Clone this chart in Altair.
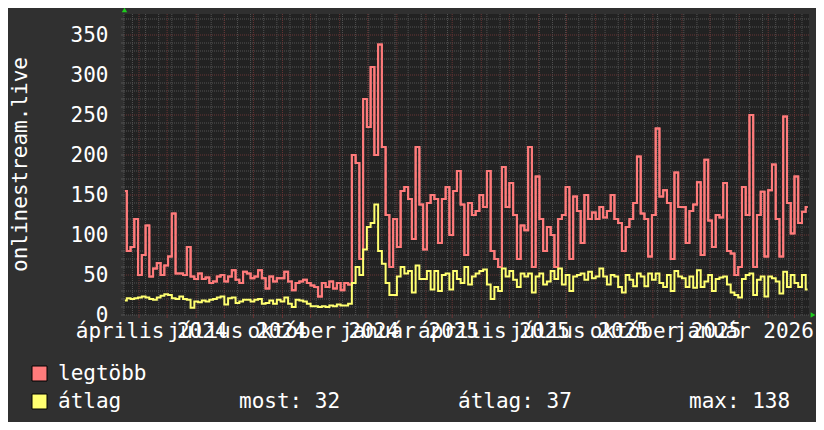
import altair as alt
import pandas as pd

# ---- data (one sample every 4 days) ----
legtobb = [
    155, 80, 85, 120, 50, 75, 112, 48, 58, 65,
    50, 62, 73, 127, 52, 52, 50, 85, 48, 45,
    52, 45, 47, 40, 42, 48, 50, 42, 48, 56,
    44, 40, 54, 52, 46, 48, 56, 46, 33, 48,
    42, 46, 46, 54, 42, 31, 40, 42, 44, 40,
    37, 35, 23, 40, 35, 42, 33, 40, 31, 40,
    38, 200, 190, 70, 270, 235, 310, 200, 338, 210,
    125, 60, 120, 85, 155, 160, 145, 95, 210, 138,
    82, 140, 150, 145, 90, 145, 160, 100, 155, 180,
    138, 75, 140, 125, 130, 150, 135, 180, 80, 70,
    60, 185, 135, 165, 125, 70, 112, 106, 210, 60,
    173, 120, 80, 110, 100, 60, 120, 125, 160, 70,
    148, 130, 90, 150, 120, 128, 120, 135, 122, 130,
    150, 120, 115, 80, 110, 120, 140, 198, 127, 120,
    73, 125, 233, 148, 156, 140, 70, 178, 135, 135,
    90, 130, 138, 166, 75, 194, 118, 85, 125, 122,
    165, 80, 77, 50, 60, 160, 125, 250, 60, 125,
    154, 73, 156, 188, 120, 73, 248, 140, 102, 173,
    115, 129, 135,
]
atlag = [
    18, 21, 20, 21, 22, 23, 22, 20, 19, 22,
    24, 26, 25, 21, 20, 23, 20, 19, 9, 17,
    16, 18, 17, 19, 20, 22, 23, 13, 21, 22,
    15, 17, 19, 19, 17, 19, 20, 14, 15, 18,
    14, 19, 17, 22, 14, 10, 19, 18, 17, 14,
    11, 11, 10, 11, 10, 12, 11, 13, 12, 12,
    14, 40, 60, 50, 82, 110, 115, 138, 80, 64,
    40, 25, 25, 48, 60, 52, 55, 28, 62, 45,
    45, 55, 32, 55, 30, 50, 52, 32, 55, 45,
    40, 60, 38, 48, 52, 55, 57, 38, 20, 35,
    30, 58, 48, 55, 44, 35, 52, 48, 52, 28,
    48, 52, 38, 42, 55, 45, 58, 38, 50, 30,
    48, 50, 52, 44, 54, 46, 48, 58, 48, 38,
    50, 48, 35, 28, 50, 44, 36, 52, 48, 36,
    52, 44, 52, 40, 35, 50, 30, 55, 48, 46,
    35, 48, 34, 56, 35, 42, 50, 30, 45, 47,
    48, 38, 28, 25, 22, 45, 50, 52, 25, 44,
    48, 23, 48, 46, 42, 27, 54, 35, 50, 40,
    35, 50, 32,
]
start_date = "2024-03-17"
step_days = 4

y_ticks = [0, 50, 100, 150, 200, 250, 300, 350]
label_dates = ["2024-04-14", "2024-07-14", "2024-10-14", "2025-01-14",
               "2025-04-14", "2025-07-14", "2025-10-14", "2026-01-06"]
hu_months = ["január", "február", "március", "április", "május", "június",
             "július", "augusztus", "szeptember", "október", "november", "december"]
axis_title = "onlinestream.live"
legend_names = ["legtöbb", "átlag"]
stats = ["most: 32", "átlag: 37", "max: 138"]

# ---- styling ----
FONT = "DejaVu Sans Mono"
FS = 21
RED = "#ff7b7b"
YEL = "#ffff70"
BG = "#303030"
CANVAS = "#222222"
MINOR = "#525252"
MAJOR = "#683434"
W, H = 685, 301

dates = pd.date_range(start_date, periods=len(legtobb), freq=f"{step_days}D")
df = pd.DataFrame({"date": dates.strftime("%Y-%m-%dT%H:%M:%S"),
                   "mx": legtobb, "av": atlag})

xdom = [alt.DateTime(year=2024, month=3, date=16),
        alt.DateTime(year=2026, month=3, date=16, hours=12)]
xs = alt.Scale(domain=xdom)
ys = alt.Scale(domain=[0, 376.25], nice=False, zero=True)

label_expr = ("[" + ",".join("'%s'" % m for m in hu_months) + "][month(datum.value)]"
              " + ' ' + year(datum.value)")
xaxis = alt.Axis(
    values=[alt.DateTime(year=int(s[:4]), month=int(s[5:7]), date=int(s[8:10])) for s in label_dates],
    labelExpr=label_expr, grid=False, domain=False, ticks=False,
    labelFont=FONT, labelFontSize=FS, labelColor="#ffffff", labelOverlap=False,
    labelFlush=False, labelBound=False, labelPadding=5, labelBaseline="top", title=None)
yaxis = alt.Axis(
    values=y_ticks, grid=False, domain=False, ticks=False,
    labelFont=FONT, labelFontSize=FS, labelColor="#ffffff", labelPadding=16,
    labelBaseline="middle",
    title=axis_title, titleFont=FONT, titleFontSize=FS, titleFontWeight="normal",
    titleColor="#ffffff", titleAngle=-90, titleX=-104, titleY=150,
    titleAlign="center", titleBaseline="middle")


def X(field):
    return alt.X(field, scale=xs, axis=xaxis)


def Y(field):
    return alt.Y(field, scale=ys, axis=yaxis)


months = pd.date_range("2024-04-01", "2026-03-01", freq="MS").strftime("%Y-%m-%dT%H:%M:%S")
biweek = pd.date_range("2024-03-25", "2026-03-16", freq="14D").strftime("%Y-%m-%dT%H:%M:%S")
df_months = pd.DataFrame({"d": months})
df_biweek = pd.DataFrame({"d": biweek})
df_hmin = pd.DataFrame({"v": [v for v in range(0, 376, 10) if v == 0 or v % 50 != 0]})
df_hmaj = pd.DataFrame({"v": [v for v in range(50, 376, 50)]})
df_ytick = pd.DataFrame({"v": list(range(0, 376, 10))})

dash = [1, 1]
hmin = alt.Chart(df_hmin).mark_rule(color=MINOR, strokeDash=dash, strokeWidth=1).encode(y=Y("v:Q"))
vmin = alt.Chart(df_biweek).mark_rule(color=MINOR, strokeDash=dash, strokeWidth=1).encode(x=X("d:T"))
hmaj = alt.Chart(df_hmaj).mark_rule(color=MAJOR, strokeDash=dash, strokeWidth=1).encode(y=Y("v:Q"))
vmaj = alt.Chart(df_months).mark_rule(color=MAJOR, strokeDash=dash, strokeWidth=1).encode(x=X("d:T"))
left_axis = alt.Chart(pd.DataFrame({"a": [0]})).mark_rule(
    color=MINOR, strokeDash=dash, strokeWidth=1).encode(
    x=alt.value(0), y=alt.value(0), y2=alt.value(H))
xticks = alt.Chart(df_months).mark_rule(color=MAJOR, strokeWidth=1).encode(
    x=X("d:T"), y=alt.value(H), y2=alt.value(H + 3))
yticks = alt.Chart(df_ytick).mark_rule(color=MINOR, strokeWidth=1).encode(
    y=Y("v:Q"), x=alt.value(-3), x2=alt.value(0))

red_line = alt.Chart(df).mark_line(color=RED, strokeWidth=2, interpolate="step").encode(
    x=X("date:T"), y=Y("mx:Q"))
yel_line = alt.Chart(df).mark_line(color=YEL, strokeWidth=2, interpolate="step").encode(
    x=X("date:T"), y=Y("av:Q"))

one = pd.DataFrame({"a": [0]})
arrow_up = alt.Chart(one).mark_point(shape="triangle-up", filled=True, color="#1ecc1e",
                                     size=30, opacity=1).encode(
    x=alt.value(0.5), y=alt.value(-4))
arrow_right = alt.Chart(one).mark_point(shape="triangle-right", filled=True, color="#1ecc1e",
                                        size=30, opacity=1).encode(
    x=alt.value(W + 4), y=alt.value(H))


def box(color, y0):
    return alt.Chart(one).mark_rect(color=color, stroke="#000000", strokeWidth=1).encode(
        x=alt.value(-92), x2=alt.value(-77), y=alt.value(y0), y2=alt.value(y0 + 15))


def txt(s, x, y):
    return alt.Chart(one).mark_text(text=s, font=FONT, fontSize=FS, color="#ffffff",
                                    align="left", baseline="alphabetic").encode(
        x=alt.value(x), y=alt.value(y))


legend = [
    box(RED, 352), box(YEL, 380),
    txt(legend_names[0], -66, 366), txt(legend_names[1], -66, 394),
    txt(stats[0], 115, 394), txt(stats[1], 334, 394), txt(stats[2], 565, 394),
]

chart = alt.layer(
    red_line, hmin, vmin, hmaj, vmaj, left_axis, xticks, yticks,
    alt.layer(red_line, yel_line), arrow_up, arrow_right, *legend
).properties(
    width=W, height=H, autosize="none", background=BG,
    padding={"left": 116, "top": 6, "right": 7, "bottom": 107},
).configure_view(fill=CANVAS, stroke=None)

chart.save("out.html", embed_options={"renderer": "svg", "actions": False})
